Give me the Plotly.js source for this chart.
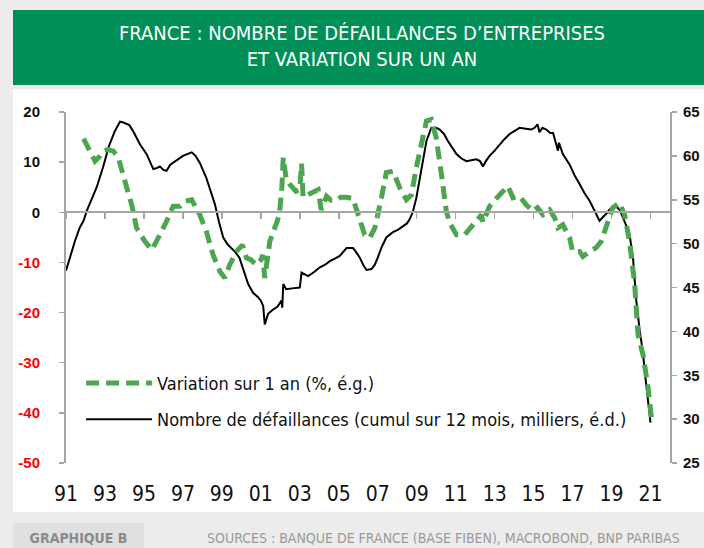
<!DOCTYPE html>
<html>
<head>
<meta charset="utf-8">
<script src="https://cdn.plot.ly/plotly-3.0.1.min.js"></script>
<style>
  html, body { margin:0; padding:0; background:#ececec; width:704px; height:548px; overflow:hidden; }
  #banner { position:absolute; left:13px; top:10px; width:691px; height:75px; background:#008f57; }
  #panel { position:absolute; left:13px; top:89px; width:691px; height:423px; background:#ffffff; }
  #tag { position:absolute; left:13px; top:523px; width:131px; height:25px; background:#e0e0e0; color:#8a8a8a;
         font-family:"DejaVu Sans Condensed","Liberation Sans Narrow",Roboto,sans-serif; font-weight:bold; font-size:14px;
         line-height:30px; text-align:center; }
  #src { position:absolute; left:207px; top:523px; height:25px; line-height:30px; white-space:nowrap; color:#9a9a9a;
         font-family:"DejaVu Sans Condensed","Liberation Sans Narrow",Roboto,sans-serif; font-size:14px; }
  #chart { position:absolute; left:0; top:0; width:704px; height:548px; }
</style>
</head>
<body>
<div id="banner"></div>
<div id="panel"></div>
<div id="tag">GRAPHIQUE B</div>
<div id="src">SOURCES : BANQUE DE FRANCE (BASE FIBEN), MACROBOND, BNP PARIBAS</div>
<div id="chart"></div>
<script>
// Nombre de défaillances (cumul sur 12 mois, milliers) - right axis
const countYears = [1991.0,1991.25,1991.46,1991.7,1991.9,1992.06,1992.3,1992.57,1992.9,1993.2,1993.5,1993.77,1993.95,1994.1,1994.25,1994.45,1994.8,1995.14,1995.48,1995.65,1995.82,1996.0,1996.16,1996.35,1996.5,1996.75,1997.0,1997.25,1997.45,1997.65,1997.87,1998.2,1998.4,1998.64,1998.85,1999.07,1999.3,1999.5,1999.7,1999.9,2000.15,2000.35,2000.6,2000.86,2001.0,2001.12,2001.2,2001.37,2001.63,2001.85,2002.06,2002.1,2002.15,2002.3,2002.6,2003.0,2003.09,2003.43,2003.75,2004.03,2004.3,2004.54,2004.8,2005.05,2005.4,2005.73,2005.9,2006.08,2006.25,2006.42,2006.68,2006.85,2007.0,2007.2,2007.44,2007.78,2008.05,2008.3,2008.5,2008.64,2008.8,2008.98,2009.24,2009.5,2009.75,2010.0,2010.18,2010.4,2010.6,2010.8,2011.04,2011.3,2011.55,2011.8,2012.06,2012.25,2012.4,2012.55,2012.74,2013.0,2013.26,2013.5,2013.77,2014.0,2014.28,2014.6,2014.88,2015.05,2015.2,2015.3,2015.45,2015.65,2015.85,2016.0,2016.15,2016.25,2016.3,2016.5,2016.85,2017.1,2017.36,2017.6,2017.87,2018.1,2018.38,2018.55,2018.73,2018.9,2019.06,2019.25,2019.4,2019.6,2019.8,2019.92,2020.1,2020.27,2020.45,2020.6,2020.75,2020.9,2021.0];
const countValues = [46.9,48.8,50.3,51.8,52.6,53.7,55.0,56.4,58.7,61.1,62.8,63.9,63.8,63.6,63.5,62.8,61.3,60.2,58.5,58.6,58.8,58.4,58.3,59.0,59.2,59.6,60.0,60.2,60.4,60.0,59.2,57.5,56.2,54.5,52.5,50.7,49.9,49.5,49.0,48.4,46.8,45.4,44.4,43.9,43.5,42.9,40.8,42.0,42.5,42.8,43.5,42.7,45.4,44.8,44.9,45.0,46.7,46.3,46.8,47.3,47.6,48.0,48.3,48.6,49.5,49.5,49.0,48.4,47.6,47.0,47.1,47.6,48.4,49.6,50.7,51.3,51.6,52.0,52.3,52.8,53.6,55.2,58.7,61.7,63.2,63.2,63.0,62.5,61.7,61.0,60.2,59.7,59.4,59.5,59.6,59.4,58.8,59.4,60.0,60.6,61.3,61.9,62.5,62.8,63.2,63.1,63.0,63.2,63.6,62.7,63.2,63.0,62.6,62.6,61.5,60.6,61.5,60.2,59.0,57.8,56.8,55.8,54.9,53.8,52.6,53.0,53.4,53.9,54.1,54.2,53.9,52.9,51.8,51.1,48.4,43.5,40.0,37.8,34.5,31.5,29.6];

// Variation sur 1 an (%) - left axis
const varYears = [1991.9,1992.2,1992.49,1992.7,1992.9,1993.15,1993.43,1993.68,1994.03,1994.37,1994.62,1994.85,1995.05,1995.4,1995.6,1995.82,1996.16,1996.5,1996.85,1997.1,1997.45,1997.65,1997.87,1998.2,1998.55,1998.9,1999.15,1999.4,1999.75,2000.06,2000.26,2000.5,2000.77,2001.0,2001.1,2001.2,2001.46,2001.8,2001.95,2002.08,2002.15,2002.3,2002.5,2002.8,2003.0,2003.09,2003.17,2003.4,2003.68,2003.94,2004.1,2004.37,2004.6,2004.88,2005.1,2005.4,2005.73,2006.0,2006.33,2006.59,2006.85,2007.19,2007.44,2007.78,2008.13,2008.47,2008.73,2008.98,2009.24,2009.5,2009.75,2010.0,2010.27,2010.52,2010.7,2011.04,2011.46,2011.89,2012.2,2012.32,2012.4,2012.74,2013.26,2013.68,2013.94,2014.28,2014.62,2014.96,2015.2,2015.48,2015.82,2016.08,2016.25,2016.5,2016.85,2017.0,2017.36,2017.53,2017.87,2018.2,2018.47,2018.73,2019.06,2019.4,2019.67,2019.92,2020.18,2020.36,2020.62,2020.88,2021.05];
const varValues = [14.7,12.5,10.2,11.0,12.2,12.5,12.2,10.9,6.2,1.5,-3.1,-4.8,-5.8,-7.5,-6.2,-4.5,-1.8,1.2,1.2,2.2,2.5,1.2,-0.5,-3.8,-8.5,-11.8,-13.1,-10.5,-7.8,-6.5,-9.1,-9.5,-10.5,-9.5,-8.5,-13.1,-5.8,-2.2,-0.5,5.0,10.9,6.7,5.5,4.2,4.5,9.7,3.0,3.5,4.1,4.5,0.5,3.2,2.4,2.4,3.0,3.0,2.7,-0.3,-4.5,-5.1,-3.1,2.9,7.9,8.2,4.9,2.5,3.5,8.9,14.2,18.2,18.5,14.9,7.5,0.2,-2.2,-4.5,-4.5,-2.5,-1.0,-0.5,-2.0,1.2,3.5,5.2,2.9,3.2,1.5,0.2,0.9,-0.5,0.5,-1.1,-3.1,-2.5,-5.1,-7.8,-7.8,-8.8,-7.8,-7.1,-5.8,-2.5,0.9,1.9,-0.5,-5.8,-14.0,-24.5,-28.5,-35.1,-41.1];

const xTickVals = [1991,1993,1995,1997,1999,2001,2003,2005,2007,2009,2011,2013,2015,2017,2019,2021];
const xTickText = ['91','93','95','97','99','01','03','05','07','09','11','13','15','17','19','21'];
const leftTickVals = [-50,-40,-30,-20,-10,0,10,20];
const leftTickText = ['-50','-40','-30','-20','-10','0','10','20'];
const rightTickVals = [25,30,35,40,45,50,55,60,65];
const rightTickText = ['25','30','35','40','45','50','55','60','65'];

const COND = '"DejaVu Sans Condensed","Liberation Sans Narrow",Roboto,sans-serif';
const NUMF = '"Liberation Sans",Arial,sans-serif';
const AXC = '#a6a6a6';

const traces = [
  { x: varYears, y: varValues, xaxis: 'x2', yaxis: 'y', type: 'scatter', mode: 'lines',
    name: 'Variation sur 1 an (%, é.g.)', line: { color: '#4ca64f', width: 5, dash: '13px,7px' },
    legendgroup: 'a', hoverinfo: 'skip' },
  { x: countYears, y: countValues, xaxis: 'x', yaxis: 'y2', type: 'scatter', mode: 'lines',
    name: 'Nombre de défaillances (cumul sur 12 mois, milliers, é.d.)', line: { color: '#000000', width: 2 },
    legendgroup: 'b', hoverinfo: 'skip' }
];

const leftText = leftTickVals.map((v, i) => v < 0 ? '<span style="color:#ff0000">' + leftTickText[i] + '</span>' : leftTickText[i]);

const layout = {
  width: 704, height: 548,
  margin: { l: 66, r: 34, t: 112, b: 85, pad: 0 },
  paper_bgcolor: 'rgba(0,0,0,0)', plot_bgcolor: 'rgba(0,0,0,0)',
  showlegend: true,
  title: { text: 'FRANCE : NOMBRE DE DÉFAILLANCES D’ENTREPRISES<br>ET VARIATION SUR UN AN',
           font: { family: COND, size: 20, color: '#ffffff' },
           xref: 'container', x: 362/704, xanchor: 'center',
           yref: 'container', y: 1 - 40/548, yanchor: 'middle' },
  xaxis: { range: [1991, 2022], tickvals: xTickVals, ticktext: xTickText, showline: false, showgrid: false,
           zeroline: false, ticks: 'outside', ticklen: 12, tickcolor: 'rgba(0,0,0,0)',
           tickfont: { family: COND, size: 21, color: '#111111' }, anchor: 'y', fixedrange: true },
  xaxis2: { range: [1991, 2022], tickvals: xTickVals, overlaying: 'x', anchor: 'free', position: 50/70,
            showticklabels: false, ticks: 'outside', ticklen: 6, tickwidth: 1.5, tickcolor: AXC,
            showline: true, linecolor: AXC, linewidth: 2, showgrid: false, zeroline: false, side: 'bottom' },
  yaxis: { range: [-50, 20], tickvals: leftTickVals, ticktext: leftText, showline: true, linecolor: AXC, linewidth: 2,
           ticks: 'outside', ticklen: 5, tickwidth: 1.5, tickcolor: AXC, showgrid: false, zeroline: false,
           ticklabelstandoff: 16,
           tickfont: { family: NUMF, size: 15, weight: 'bold', color: '#111111' }, anchor: 'x' },
  yaxis2: { range: [25, 65], tickvals: rightTickVals, ticktext: rightTickText, overlaying: 'y', side: 'right', anchor: 'x',
            showline: true, linecolor: AXC, linewidth: 2, ticks: 'outside', ticklen: 5, tickwidth: 1.5, tickcolor: AXC,
            ticklabelstandoff: 3,
            showgrid: false, zeroline: false, tickfont: { family: NUMF, size: 15, weight: 'bold', color: '#111111' } },
  legend: { x: 0.025, xanchor: 'left', y: 0.28, yanchor: 'top', bgcolor: 'rgba(0,0,0,0)',
            font: { family: COND, size: 18, color: '#111111' }, traceorder: 'grouped', tracegroupgap: 10,
            itemwidth: 66 }
};

Plotly.newPlot('chart', traces, layout, { displayModeBar: false, staticPlot: true });
</script>
</body>
</html>
